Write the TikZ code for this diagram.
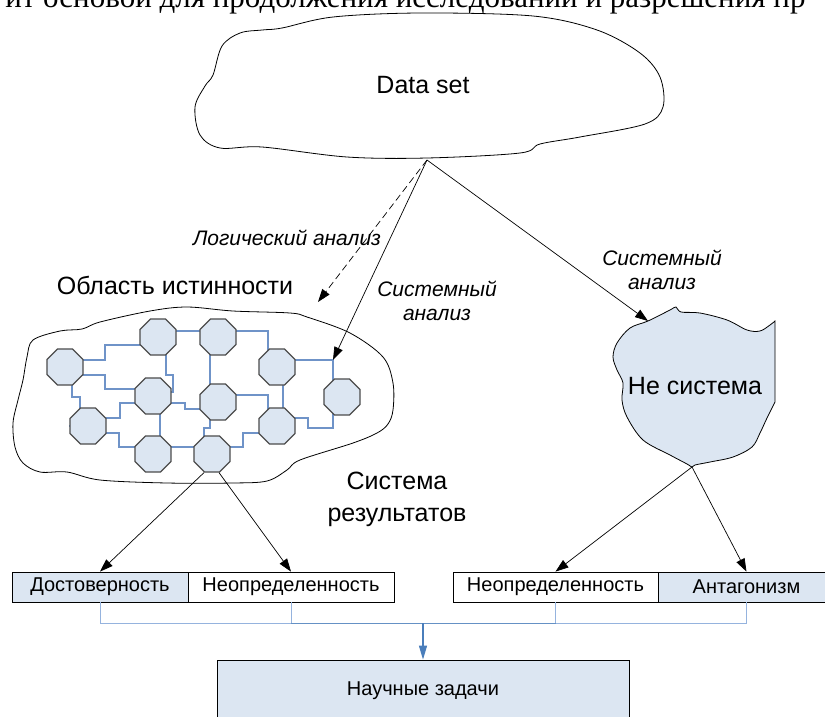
\documentclass[tikz,border=0pt]{standalone}
\usepackage{fontspec}
\setmainfont{Liberation Sans}
\newfontfamily\seriffont{Liberation Serif}
\usetikzlibrary{arrows.meta,shapes.geometric,calc}
\definecolor{lb}{HTML}{DCE6F2}
\definecolor{netblue}{HTML}{6F93C8}
\definecolor{linkblue}{HTML}{95B3DE}
\definecolor{darkblue}{HTML}{4A7EBB}
\pgfdeclarelayer{bg}
\pgfsetlayers{bg,main}
\begin{document}
\begin{tikzpicture}[x=1pt,y=-1pt,
  oct/.style={regular polygon, regular polygon sides=8, minimum size=39pt, inner sep=0pt, fill=lb, draw=black!70, line width=1.2pt},
  net/.style={netblue, line width=1.1pt},
  arr/.style={-{Triangle[length=13pt,width=9pt]}, line width=0.7pt},
  outline/.style={draw, line width=0.8pt},
  box/.style={draw, line width=0.8pt, minimum height=30pt, inner sep=0pt, font=\fontsize{20}{24}\selectfont},
  lbl/.style={font=\fontsize{25}{30}\selectfont, align=center},
  ilbl/.style={font=\itshape\fontsize{21}{24}\selectfont, align=center}
]
\useasboundingbox (0,0) rectangle (825,716);
\clip (0,0) rectangle (825,716);

% cut-off line of running text
\node[anchor=base west, inner sep=0pt, font=\seriffont\fontsize{31}{36}\selectfont] (topline) at (43,7) {\llap{ит }основой для продолжения исследований и разрешения пр};

% Data set cloud
\draw[outline] plot[smooth cycle, tension=0.55] coordinates {
 (213,75) (222,46) (240,33) (262,30) (282,28) (333,17) (420,13) (533,16) (597,30)
 (640,53) (660,77) (663,107) (645,124) (580,137) (540,144) (520,153) (427,158)
 (347,157) (262,147) (220,148) (200,135) (195,107) (205,86)};
\node[lbl] (dsl) at (423,85) {Data set};
\coordinate (dstip) at (427,160);

% region cloud
\draw[outline] plot[smooth cycle, tension=0.55] coordinates {
 (33,340) (60,331) (82,329) (100,322) (150,311) (187,307) (233,311) (290,313) (307,317)
 (350,333) (383,357) (393,383) (393,410) (388,424) (377,433) (353,443) (300,460)
 (287,470) (267,481) (233,483) (167,483) (100,480) (67,472) (40,472) (23,463)
 (15,447) (13,423) (18,400) (23,380) (27,357)};
\node[lbl] (regl) at (175,285) {Область истинности};

% octagons
\node[oct] (o1) at (65,367) {};
\node[oct] (o2) at (158,337) {};
\node[oct] (o3) at (218,337) {};
\node[oct] (o4) at (277,367) {};
\node[oct] (o5) at (342,397) {};
\node[oct] (o6) at (153,396) {};
\node[oct] (o7) at (218,402) {};
\node[oct] (o8) at (88,426) {};
\node[oct] (o9) at (277,426) {};
\node[oct] (o10) at (153,454) {};
\node[oct] (o11) at (212,454) {};
\coordinate (corner) at (333,360);

\begin{pgfonlayer}{bg}
\draw[net] (o1 |- 0,360) -| (105,345) -- (o2 |- 0,345);
\draw[net] (o1 |- 0,375) -| (105,389) -- (o6 |- 0,389);
\draw[net] (72,367) |- (80,397) -- (80,426) -- (o8);
\draw[net] (166,337) |- (173,375) -- (173,392) -- (o6 |- 0,392);
\draw[net] (o2 |- 0,331) -- (o3 |- 0,331);
\draw[net] (o3 |- 0,331) -| (268,367) -- (o4 -| 268,0);
\draw[net] (210,337) -- (210,402);
\draw[net] (o4 |- 0,360) -- (corner) -- (o5 -| corner);
\draw[net] (283,367) -- (283,426);
\draw[net] (o7 |- 0,395) -| (268,426);
\draw[net] (o6 |- 0,403) -| (185,409) -- (o7 |- 0,409);
\draw[net] (o6 |- 0,403) -| (120,418) -- (o8 |- 0,418);
\draw[net] (160,396) -- (160,454);
\draw[net] (o8 |- 0,433) -| (119,447) -- (o10 |- 0,447);
\draw[net] (o10 |- 0,447) -- (o11 |- 0,447);
\draw[net] (210,402) |- (204,428) -- (204,454);
\draw[net] (o11 |- 0,447) -| (243,433) -- (o9 |- 0,433);
\draw[net] (o9 |- 0,418) -| (308,428) -| (o5 -| corner);
\end{pgfonlayer}

% Ne sistema shape
\draw[outline, fill=lb] plot[smooth, tension=0.55] coordinates {
 (775,402) (767,418) (760,433) (752,447) (733,457) (710,462) (695,465) (692,467)
 (687,464) (670,455) (643,440) (627,417) (622,400) (623,383) (617,370) (613,357)
 (617,343) (630,328) (648,321) (670,310) (676,307) (681,312) (700,313) (727,320)
 (747,330) (760,331) (770,325) (775,321)} -- cycle;
\node[lbl] (nsl) at (695,386) {Не система};
\coordinate (nstop) at (648,321);
\coordinate (nstip) at (692,467);

% labels
\node[ilbl] (logl) at (287,238) {Логический анализ};
\node[ilbl] (sysl1) at (437,301) {Системный\\анализ};
\node[ilbl] (sysl2) at (662,270) {Системный\\анализ};
\node[lbl, font=\fontsize{25}{32}\selectfont] (resl) at (397,499) {Система\\результатов};

% boxes
\node[box, fill=lb, minimum width=176pt] (b1) at (100,587) {Достоверность};
\node[box, fill=white, minimum width=206pt] (b2) at (291,587) {Неопределенность};
\node[box, fill=white, minimum width=205pt] (b3) at (555.5,587) {Неопределенность};
\node[box, fill=lb, minimum width=177pt] (b4) at (746.5,587) {Антагонизм};
\node[box, fill=lb, minimum width=412pt, minimum height=62pt] (sci) at (423,691) {Научные задачи};

% arrows
\draw[arr, dash pattern=on 7pt off 4pt] (dstip) -- (318,302) coordinate (la);
\draw[arr] (dstip) -- (corner);
\draw[arr] (dstip) -- (nstop);
\draw[arr] ([xshift=-8pt]o11.south) -- (b1.north);
\draw[arr] ([xshift=7pt]o11.south) -- (b2.north);
\draw[arr] (nstip) -- (b3.north);
\draw[arr] (nstip) -- (b4.north);

% bottom connectors
\draw[linkblue, line width=1pt] (b1.south) -- (b1.south |- 0,623) -- (b2.south |- 0,623);
\draw[linkblue, line width=1pt] (b3.south |- 0,623) -- (b4.south |- 0,623) -- (b4.south);
\draw[linkblue, line width=1pt] (b2.south) -- (b2.south |- 0,623);
\draw[linkblue, line width=1pt] (b3.south) -- (b3.south |- 0,623);
\draw[darkblue!85, line width=1pt] (b2.south |- 0,623) -- (b3.south |- 0,623);
\draw[darkblue, line width=1.3pt, -{Triangle[length=14pt,width=8pt]}] (sci.north |- 0,623) -- (sci.north);
\end{tikzpicture}
\end{document}
